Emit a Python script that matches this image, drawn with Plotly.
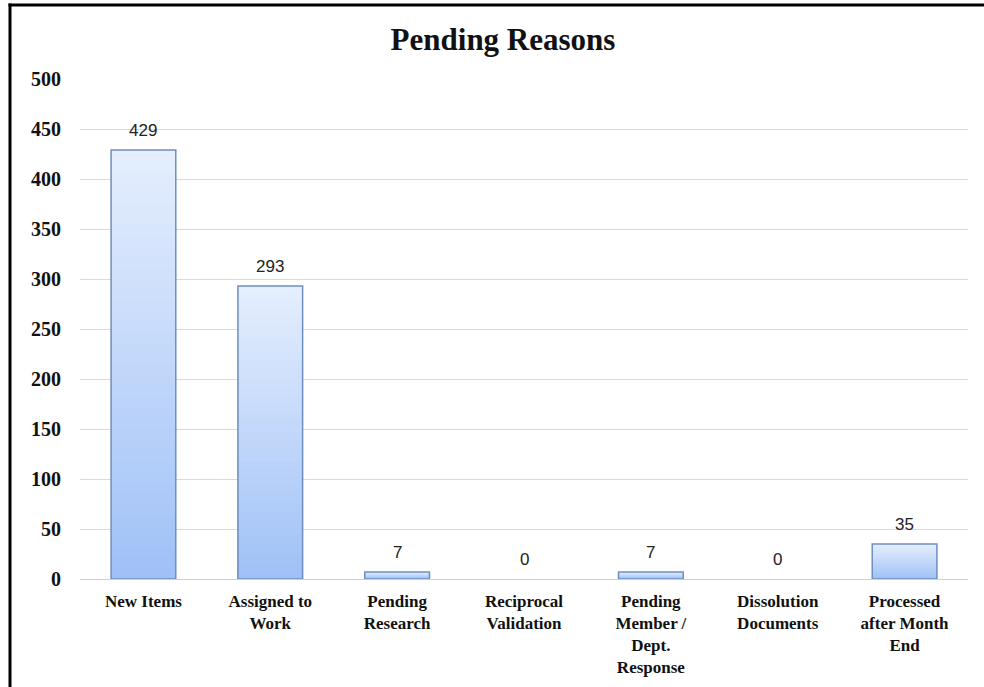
import plotly.graph_objects as go

categories = ["New Items", "Assigned to<br>Work", "Pending<br>Research", "Reciprocal<br>Validation",
              "Pending<br>Member /<br>Dept.<br>Response", "Dissolution<br>Documents",
              "Processed<br>after Month<br>End"]
values = [429, 293, 7, 0, 7, 0, 35]
y_ticks = [0, 50, 100, 150, 200, 250, 300, 350, 400, 450, 500]

W, H = 984, 687
L, R, T, B = 80, 16, 79, 108
PW, PH = W - L - R, H - T - B

top_rgb = (228, 238, 253)
bot_rgb = (158, 192, 247)
N = 40

fig = go.Figure()
for k in range(N):
    frac = 1 - k / N
    c = tuple(round(bot_rgb[j] + (top_rgb[j] - bot_rgb[j]) * frac) for j in range(3))
    fig.add_trace(go.Bar(
        x=categories, y=[v * frac for v in values], width=0.51,
        marker=dict(color="rgb(%d,%d,%d)" % c, line=dict(width=0)),
        hoverinfo="skip", showlegend=False))
fig.add_trace(go.Bar(
    x=categories, y=values, width=0.51,
    marker=dict(color="rgba(0,0,0,0)", line=dict(color="#6f8fbf",
                width=[1.5 if v > 0 else 0 for v in values])),
    showlegend=False))

for c, v in zip(categories, values):
    fig.add_annotation(x=c, y=v, text=str(v), showarrow=False, yanchor="bottom", yshift=8,
                       font=dict(family="Liberation Sans, Arial", size=17, color="#222"))

def px2x(px):
    return (px - L) / PW

def py2y(py):
    return (H - B - py) / PH

fig.add_shape(type="line", xref="paper", yref="paper", x0=px2x(8.5), x1=px2x(990),
              y0=py2y(5), y1=py2y(5), line=dict(color="black", width=3))
fig.add_shape(type="line", xref="paper", yref="paper", x0=px2x(10), x1=px2x(10),
              y0=py2y(3.5), y1=py2y(700), line=dict(color="black", width=3))

fig.update_layout(
    width=W, height=H, margin=dict(l=L, r=R, t=T, b=B, autoexpand=False),
    barmode="overlay", bargap=0.49,
    plot_bgcolor="white", paper_bgcolor="white",
    title=dict(text="<b>Pending Reasons</b>", x=503 / W, xanchor="center", xref="container",
               y=1 - 39 / H, yanchor="middle", yref="container",
               font=dict(family="Liberation Serif, Times New Roman", size=31, color="#111")),
    xaxis=dict(showgrid=False, showline=False, ticks="", tickangle=0, ticklabelstandoff=10,
               automargin=False,
               tickfont=dict(family="Liberation Serif, Times New Roman", size=17, color="#111", weight="bold")),
    yaxis=dict(range=[0, 500], tickvals=y_ticks, showgrid=True, gridcolor="#d9d9d9", gridwidth=1,
               zeroline=True, zerolinecolor="#d0d0d0", zerolinewidth=1, showline=False,
               ticks="", ticklabelstandoff=18, automargin=False,
               tickfont=dict(family="Liberation Serif, Times New Roman", size=20, color="#111", weight="bold")),
    font=dict(family="Liberation Serif"),
)
fig.write_html("out.html")
